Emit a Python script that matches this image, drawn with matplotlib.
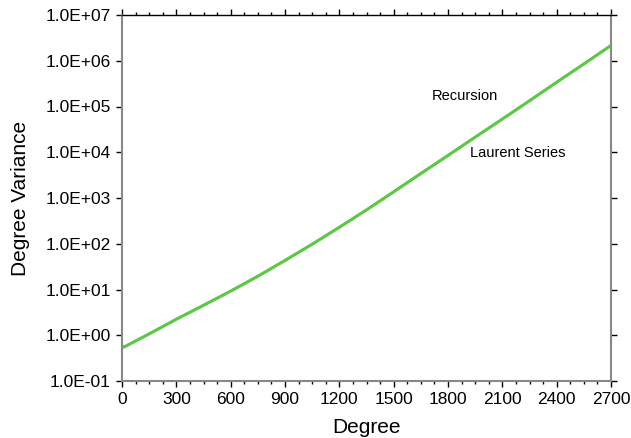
import matplotlib
matplotlib.use("Agg")
import matplotlib.pyplot as plt
from matplotlib.ticker import FixedLocator, MultipleLocator, FuncFormatter, NullLocator

plt.rcParams['font.family'] = ['Liberation Sans', 'DejaVu Sans']

degree = [0, 10, 150, 300, 450, 600, 750, 900, 1050, 1200, 1350, 1500,
          1650, 1800, 1950, 2100, 2250, 2400, 2550, 2700]
recursion = [0.582, 0.550, 1.072, 2.239, 4.519, 9.226, 19.50, 43.15, 97.72, 229.1,
             549.5, 1365, 3428, 8511, 21380, 53090, 133400, 338800, 851100, 2163000]
laurent = [0.582, 0.550, 1.072, 2.239, 4.519, 9.226, 19.50, 43.15, 97.72, 229.1,
           549.5, 1365, 3428, 8511, 21380, 53090, 133400, 338800, 851100, 2163000]

x_ticks = [0, 300, 600, 900, 1200, 1500, 1800, 2100, 2400, 2700]
y_ticks = [1e-1, 1e0, 1e1, 1e2, 1e3, 1e4, 1e5, 1e6, 1e7]

fig = plt.figure(figsize=(6.31, 4.38), dpi=100)
ax = fig.add_axes([122/631, (438-381)/438, (611-122)/631, (381-15)/438])

green = '#5cc846'
ax.plot(degree, recursion, color=green, lw=2.0, solid_capstyle='butt')
ax.plot(degree, laurent, color=green, lw=2.0, solid_capstyle='butt')

ax.set_yscale('log')
ax.set_xlim(0, 2700)
ax.set_ylim(1e-1, 1e7)

ax.xaxis.set_major_locator(FixedLocator(x_ticks))
ax.xaxis.set_minor_locator(MultipleLocator(75))
ax.yaxis.set_major_locator(FixedLocator(y_ticks))
ax.yaxis.set_minor_locator(NullLocator())
ax.yaxis.set_major_formatter(FuncFormatter(lambda v, p: f"{v:.1E}"))
ax.set_xticklabels([str(t) for t in x_ticks])

ax.tick_params(which='major', direction='out', length=4, width=1, color='black',
               labelsize=12.5, pad=4, top=True, right=True, labeltop=False, labelright=False)
ax.tick_params(which='minor', direction='out', length=2, width=1, color='black',
               top=True, right=True)

for side in ['left', 'right', 'bottom']:
    ax.spines[side].set_color('#888888')
    ax.spines[side].set_linewidth(1.5)
ax.spines['top'].set_color('black')
ax.spines['top'].set_linewidth(1.0)

ax.set_xlabel('Degree', fontsize=15, labelpad=8)
ax.set_ylabel('Degree Variance', fontsize=15, labelpad=11)

ax.text(1712, 1.7e5, 'Recursion', fontsize=10.5, ha='left', va='center')
ax.text(1921, 9.6e3, 'Laurent Series', fontsize=10.5, ha='left', va='center')

fig.savefig('out.png', dpi=100)
